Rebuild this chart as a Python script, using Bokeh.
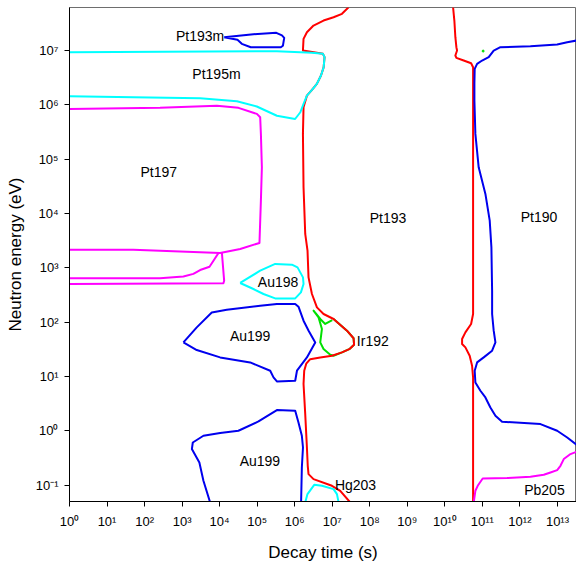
import numpy as np
from bokeh.plotting import figure
from bokeh.models import FixedTicker
from bokeh.core.properties import value
from bokeh.embed import file_html
from bokeh.resources import INLINE

# ---- data: log10(decay time [s]) and log10(neutron energy [eV]) ----
pt193m_t = [4.12, 4.90, 5.51, 5.66, 5.72, 5.685, 5.63, 4.83, 4.59, 4.475, 4.12]
pt193m_e = [7.245, 7.30, 7.326, 7.28, 7.234, 7.087, 7.06, 7.06, 7.123, 7.197, 7.245]

pt195m_t = [0, 5.525, 6.459, 6.752, 6.795, 6.77, 6.70, 6.59, 6.46, 6.325, 6.235, 6.15, 6.01,
            5.525, 4.99, 4.46, 3.48, 1.70, 0]
pt195m_e = [6.969, 6.987, 6.958, 6.939, 6.877, 6.69, 6.54, 6.387, 6.276, 6.17, 6.02, 5.864, 5.74,
            5.80, 5.97, 6.066, 6.12, 6.14, 6.158]

pt197_t = [0, 2.413, 3.925, 4.501, 4.992, 5.08, 5.099, 5.125, 5.099, 5.061, 4.547, 4.013, 1.70, 0]
pt197_e = [5.926, 5.945, 5.982, 5.945, 5.834, 5.772, 5.466, 4.851, 4.238, 3.459, 3.348, 3.274, 3.335, 3.335]
pt197b_t = [3.97, 3.835, 3.73, 3.48, 3.30, 3.035, 2.41, 0]
pt197b_e = [3.275, 3.13, 3.02, 2.96, 2.89, 2.84, 2.81, 2.807]
pt197c_t = [4.06, 4.12, 4.10, 0]
pt197c_e = [3.275, 2.764, 2.715, 2.703]

au198_t = [4.547, 5.08, 5.48, 5.925, 6.075, 6.22, 6.235, 6.165, 6.013, 5.48, 5.168, 4.90, 4.547]
au198_e = [2.722, 2.948, 3.072, 3.059, 3.009, 2.825, 2.703, 2.549, 2.438, 2.438, 2.519, 2.611, 2.722]

au199a_t = [3.035, 3.39, 3.79, 4.19, 5.08, 5.525, 6.013, 6.10, 6.235, 6.37, 6.547, 6.325, 6.06, 6.013,
            5.525, 5.435, 5.347, 4.813, 4.013, 3.39, 3.035]
au199a_e = [1.628, 1.904, 2.18, 2.23, 2.304, 2.335, 2.335, 2.285, 2.028, 1.844, 1.628, 1.352, 1.107, 0.923,
            0.91, 0.984, 1.107, 1.26, 1.352, 1.488, 1.628]

au199b_t = [3.747, 3.568, 3.46, 3.26, 3.285, 3.568, 4.013, 4.50, 5.035, 5.525, 6.013, 6.10, 6.19, 6.22,
            6.19, 6.17]
au199b_e = [-1.318, -0.919, -0.582, -0.335, -0.214, -0.09, -0.04, 0.002, 0.173, 0.383, 0.37, 0.155, -0.09,
            -0.306, -0.674, -1.318]

hg203_t = [6.28, 6.34, 6.52, 6.725, 7.035, 7.125, 7.17]
hg203_e = [-1.318, -1.164, -0.993, -1.011, -1.072, -1.164, -1.318]

ir192_t = [7.0, 6.813, 6.68, 6.573, 6.501, 6.635, 6.725, 6.68, 6.768, 6.947, 7.035, 7.259, 7.453, 7.581,
           7.568, 7.392, 7.035]
ir192_e = [2.04, 1.967, 2.059, 2.151, 2.212, 2.089, 1.875, 1.628, 1.506, 1.401, 1.383, 1.444, 1.503, 1.586,
           1.705, 1.844, 2.059]

pt193l_t = [7.435, 7.259, 7.035, 6.768, 6.501, 6.325, 6.235, 6.219, 6.752, 6.795, 6.77, 6.70, 6.59, 6.46,
            6.325, 6.235, 6.219, 6.235, 6.28, 6.341, 6.368, 6.459, 6.592, 6.768, 7.035, 7.392, 7.568, 7.581,
            7.453, 7.259, 6.992, 6.68, 6.413, 6.307, 6.253, 6.235, 6.28, 6.325, 6.347, 6.368, 6.501, 6.992,
            7.213, 7.48]
pt193l_e = [7.797, 7.676, 7.613, 7.552, 7.46, 7.337, 7.215, 7.0, 6.939, 6.877, 6.69, 6.54, 6.387, 6.276,
            6.17, 5.956, 5.466, 4.483, 3.624, 3.317, 2.825, 2.519, 2.273, 2.151, 2.059, 1.844, 1.705, 1.586,
            1.503, 1.444, 1.383, 1.352, 1.319, 1.236, 1.107, 0.862, 0.309, -0.306, -0.643, -0.796, -0.888,
            -1.011, -1.103, -1.318]

pt193r_t = [10.219, 10.253, 10.28, 10.307, 10.325, 10.28, 10.307, 10.501, 10.699, 10.752, 10.752, 10.699,
            10.547, 10.459, 10.459, 10.547, 10.661, 10.725, 10.752, 10.752]
pt193r_e = [7.797, 7.552, 7.245, 7.061, 7.0, 6.908, 6.866, 6.816, 6.766, 6.692, 2.151, 1.967, 1.812, 1.69,
            1.599, 1.536, 1.383, 1.199, 0.983, -1.318]

pt190_t = [13.507, 13.259, 12.992, 12.28, 11.48, 11.301, 11.168, 10.992, 10.859, 10.795, 10.787, 10.787,
           10.813, 10.901, 11.08, 11.195, 11.24, 11.259, 11.259, 11.301, 11.347, 11.259, 11.035, 10.859,
           10.795, 10.813, 10.947, 11.08, 11.213, 11.347, 11.525, 12.547, 12.992, 13.259, 13.507]
pt190_e = [7.184, 7.153, 7.11, 7.079, 7.061, 7.0, 6.877, 6.816, 6.755, 6.663, 6.387, 6.079, 5.466, 4.851,
           4.361, 3.869, 3.378, 2.58, 2.151, 1.844, 1.628, 1.475, 1.352, 1.26, 1.107, 0.891, 0.738, 0.615,
           0.431, 0.278, 0.168, 0.125, 0.002, -0.122, -0.256]

pb205_t = [10.768, 10.813, 10.875, 11.008, 11.659, 12.28, 12.635, 12.813, 12.992, 13.08, 13.168, 13.347, 13.507]
pb205_e = [-1.318, -1.103, -1.011, -0.877, -0.869, -0.845, -0.808, -0.766, -0.722, -0.643, -0.519, -0.427, -0.385]

dot_t = [11.02]
dot_e = [6.99]

label_text = ["Pt193m", "Pt195m", "Pt197", "Pt193", "Pt190", "Au198", "Au199", "Ir192", "Au199", "Hg203", "Pb205"]
label_t = [3.48, 3.915, 2.378, 8.485, 12.51, 5.556, 4.813, 8.08, 5.072, 7.62, 12.653]
label_e = [7.26, 6.571, 4.772, 3.912, 3.93, 2.733, 1.751, 1.646, -0.563, -0.993, -1.09]

x_exps = list(range(0, 14))
y_exps = list(range(-1, 8))

SUP = {"-": "\u207b", "0": "\u2070", "1": "\u00b9", "2": "\u00b2", "3": "\u00b3", "4": "\u2074",
       "5": "\u2075", "6": "\u2076", "7": "\u2077", "8": "\u2078", "9": "\u2079"}


def sup(n):
    return "".join(SUP[c] for c in str(n))


def pw(a):
    return [10.0 ** v for v in a]


FONT = "Liberation Sans"

p = figure(width=576, height=565, x_axis_type="log", y_axis_type="log",
           x_range=(1, 10 ** 13.507), y_range=(10 ** -1.30, 10 ** 7.792),
           output_backend="svg", toolbar_location=None,
           min_border_left=69, min_border_right=0, min_border_top=7, min_border_bottom=64)
p.grid.visible = False
p.outline_line_color = "#6e6e6e"
p.outline_line_width = 1
p.background_fill_color = "white"
p.border_fill_color = "white"

for ax in (p.xaxis[0], p.yaxis[0]):
    ax.axis_line_color = "black"
    ax.axis_line_width = 1
    ax.major_tick_line_color = "black"
    ax.major_tick_out = 5
    ax.major_tick_in = 0
    ax.minor_tick_line_color = None
    ax.major_label_text_font = FONT
    ax.major_label_text_font_size = "13px"
    ax.major_label_text_color = "black"
    ax.axis_label_text_font = FONT
    ax.axis_label_text_font_size = "17px"
    ax.axis_label_text_font_style = "normal"
    ax.axis_label_text_color = "black"

p.xaxis.ticker = FixedTicker(ticks=[10 ** e for e in x_exps])
p.xaxis.major_label_overrides = {10 ** e: "10" + sup(e) for e in x_exps}
p.xaxis.axis_label = "Decay time (s)"
p.xaxis.major_label_standoff = 7
p.xaxis.axis_label_standoff = 11

p.yaxis.ticker = FixedTicker(ticks=[10.0 ** e for e in y_exps])
p.yaxis.major_label_overrides = {10.0 ** e: "10" + sup(e) for e in y_exps}
p.yaxis.axis_label = "Neutron energy (eV)"
p.yaxis.major_label_standoff = 6
p.yaxis.axis_label_standoff = 8

LW = 2
RED, BLUE, CYAN, MAG, GREEN = "#ff0000", "#0000ee", "#00ffff", "#ff00ff", "#00e000"

p.line(pw(ir192_t), pw(ir192_e), color=GREEN, line_width=LW, line_join="round")
p.line(pw(pt193l_t), pw(pt193l_e), color=RED, line_width=LW, line_join="round")
p.line(pw(pt193r_t), pw(pt193r_e), color=RED, line_width=LW, line_join="round")
p.line(pw(pt195m_t), pw(pt195m_e), color=CYAN, line_width=LW, line_join="round")
p.line(pw(au198_t), pw(au198_e), color=CYAN, line_width=LW, line_join="round")
p.line(pw(hg203_t), pw(hg203_e), color=CYAN, line_width=LW, line_join="round")
p.line(pw(pt193m_t), pw(pt193m_e), color=BLUE, line_width=LW, line_join="round")
p.line(pw(au199a_t), pw(au199a_e), color=BLUE, line_width=LW, line_join="round")
p.line(pw(au199b_t), pw(au199b_e), color=BLUE, line_width=LW, line_join="round")
p.line(pw(pt190_t), pw(pt190_e), color=BLUE, line_width=LW, line_join="round")
p.line(pw(pt197_t), pw(pt197_e), color=MAG, line_width=LW, line_join="round")
p.line(pw(pt197b_t), pw(pt197b_e), color=MAG, line_width=LW, line_join="round")
p.line(pw(pt197c_t), pw(pt197c_e), color=MAG, line_width=LW, line_join="round")
p.line(pw(pb205_t), pw(pb205_e), color=MAG, line_width=LW, line_join="round")
p.scatter(pw(dot_t), pw(dot_e), size=2, color=GREEN)

p.text(x=pw(label_t), y=pw(label_e), text=label_text,
       text_font=value(FONT), text_font_size=value("14px"), text_color="black",
       text_align="center", text_baseline="middle")

open("out.html", "w").write(file_html(p, INLINE))
